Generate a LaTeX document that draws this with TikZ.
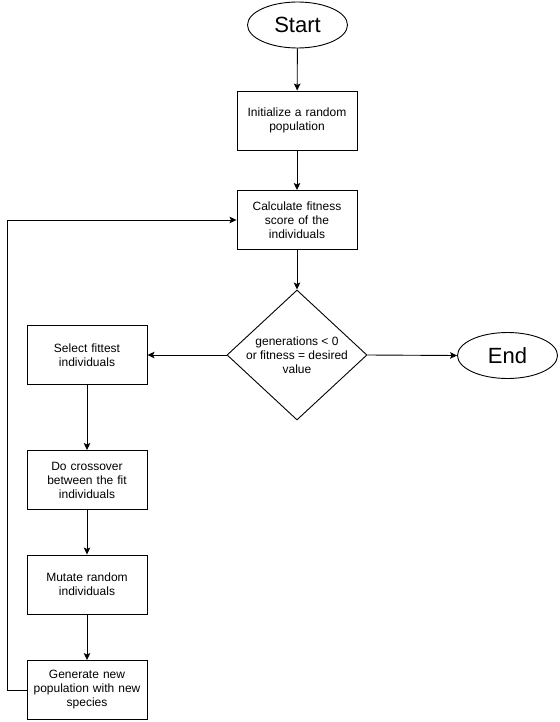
\documentclass[tikz,border=0pt]{standalone}
\usepackage{fontspec}
\setmainfont{Liberation Sans}
\usetikzlibrary{arrows.meta,shapes.geometric}
\tikzset{
  box/.style={draw, line width=0.9pt, minimum width=120pt, minimum height=59pt, inner sep=2pt, align=center, font=\fontsize{12}{14}\selectfont, text width=112pt},
  term/.style={draw, ellipse, line width=0.9pt, minimum width=100pt, minimum height=46pt, inner sep=0pt, font=\fontsize{22}{24}\selectfont},
  dia/.style={draw, diamond, line width=0.9pt, minimum width=140pt, minimum height=130pt, inner sep=0pt},
  conn/.style={line width=0.9pt, -{Stealth[length=7pt,width=6.5pt,inset=1.5pt]}}
}
\begin{document}
\begin{tikzpicture}[x=1pt,y=-1pt]
\useasboundingbox[fill=white] (0,0) rectangle (559,722);
\node[term] (start) at (297.5,25) {Start};
\node[box] (init) at (297,120.5) {Initialize a random\\population};
\node[box] (calc) at (297,220) {Calculate fitness\\score of the\\individuals};
\node[dia] (cond) at (297,355) {};
\node[align=center, font=\fontsize{12}{14}\selectfont, inner sep=0pt] (condtext) at (297,355) {generations {<} 0\\or fitness = desired\\value};
\node[term] (end) at (507.5,355.5) {End};
\node[box] (sel) at (87,355) {Select fittest\\individuals};
\node[box] (cross) at (87,480) {Do crossover\\between the fit\\individuals};
\node[box] (mut) at (87,584.5) {Mutate random\\individuals};
\node[box] (gen) at (87,690) {Generate new\\population with new\\species};
\coordinate (c1) at (7,690);
\coordinate (c2) at (7,220);
\draw[conn] (start) -- (init);
\draw[conn] (init) -- (calc);
\draw[conn] (calc) -- (cond.north);
\draw[conn] (cond.west) -- (sel.east);
\draw[conn] (cond.east) -- (end.west);
\draw[conn] (sel) -- (cross);
\draw[conn] (cross) -- (mut);
\draw[conn] (mut) -- (gen);
\draw[conn] (gen.west) -- (c1) -- (c2) -- (calc.west);
\end{tikzpicture}
\end{document}
